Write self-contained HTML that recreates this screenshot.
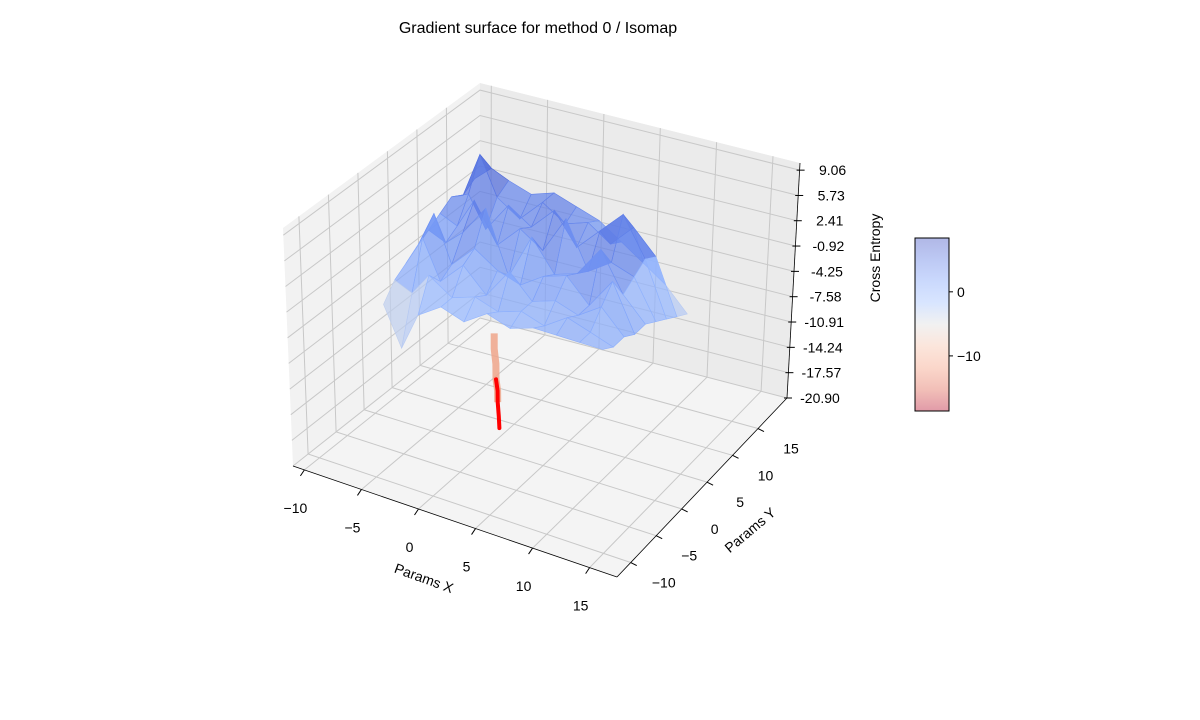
<!DOCTYPE html>
<html><head><meta charset="utf-8"><style>
html,body{margin:0;padding:0;background:#fff;}
svg{display:block;font-family:"Liberation Sans","DejaVu Sans",sans-serif;}
</style></head><body>
<svg id="chart" width="1200" height="720" viewBox="0 0 1200 720" xmlns="http://www.w3.org/2000/svg">
<rect width="1200" height="720" fill="#fff"/>
<text x="538" y="33" font-size="16" text-anchor="middle" fill="#000">Gradient surface for method 0 / Isomap</text>
<g id="panes"></g>
<g id="grid"></g>
<g id="surf"></g>
<g id="traj"></g>
<g id="axes"></g>
<text x="424" y="583" font-size="14" text-anchor="middle" transform="rotate(20 424 578)">Params X</text>
<text x="750" y="535" font-size="14" text-anchor="middle" transform="rotate(-40 750 530)">Params Y</text>
<text x="880" y="258" font-size="14" text-anchor="middle" transform="rotate(-90 880 258)">Cross Entropy</text>
<defs><linearGradient id="cbg" x1="0" y1="0" x2="0" y2="1">
<stop offset="0" stop-color="#3b4cc0"/><stop offset="0.125" stop-color="#5977e3"/><stop offset="0.25" stop-color="#7b9ff9"/><stop offset="0.375" stop-color="#9ebeff"/><stop offset="0.5" stop-color="#dddcdc"/><stop offset="0.625" stop-color="#f6bfa6"/><stop offset="0.75" stop-color="#f49a7b"/><stop offset="0.875" stop-color="#de604d"/><stop offset="1" stop-color="#b40426"/></linearGradient></defs>
<g>
<rect x="915" y="238" width="34" height="173" fill="url(#cbg)" opacity="0.4"/>
<rect x="915" y="238" width="34" height="173" fill="none" stroke="#000" stroke-width="1"/>
<g id="cbticks"></g>
</g>
</svg>
<script>
// ---- data ----
const xs = [-7,-5.5,-4,-2,0,2,4,6,8,10,12];
const ys = [-4,-2,0,2,4,6,8,10,12];
const zRow0 = [-3,-8,-3,-1,-2,0,-1,0,0,0,0];
const zRow1 = [-1,-2,1,-1,0,-1,0,-1,1,0,-1];
const zRow2 = [0,4,-1,2,-1,3,0,1,0,2,-1];
const zRow3 = [1,6,0,3,1,0,2,3,0,4,-2];
const zRow4 = [2,1,3,7,-1,5,1,2,6,1,-2];
const zRow5 = [3,2,6,1,4,2,7,1,3,2,-3];
const zRow6 = [4,5,1,5,3,6,2,5,8,3,-4];
const zRow7 = [3,9,4,2,5,3,4,2,5,2,-5];
const zRow8 = [4,6,5,4,5,4,3,1,-1,-3,-6];
const Z = [zRow0,zRow1,zRow2,zRow3,zRow4,zRow5,zRow6,zRow7,zRow8];
const trajX = [-0.7,-0.7,-0.6,-0.6,-0.5,-0.5,-0.4,-0.4];
const trajY = [2.8,2.8,2.9,2.9,3.0,3.0,3.0,3.1];
const trajZ = [-8,-10,-12,-14,-15.5,-17,-18.8,-20.4];
const xTicks = [-10,-5,0,5,10,15];
const yTicks = [-10,-5,0,5,10,15];
const zTicks = [9.06,5.73,2.41,-0.92,-4.25,-7.58,-10.91,-14.24,-17.57,-20.90];
const cbTicks = [0,-10];
const cbMin = -18.6, cbMax = 8.4;

// ---- projection ----
const X0=-11,X1=17.4,Y0=-12.7,Y1=20.7,Z0=-20.9,Z1=10;
const Bt=[[293,466],[617,577],[787,398],[480,318]];
const Tp=[[283,228],[620,337],[800,163],[480,83]];
function bil(c,u,v){return [c[0][0]*(1-u)*(1-v)+c[1][0]*u*(1-v)+c[2][0]*u*v+c[3][0]*(1-u)*v,
 c[0][1]*(1-u)*(1-v)+c[1][1]*u*(1-v)+c[2][1]*u*v+c[3][1]*(1-u)*v];}
function P(x,y,z){const u=(x-X0)/(X1-X0),v=(y-Y0)/(Y1-Y0),w=(z-Z0)/(Z1-Z0);
 const b=bil(Bt,u,v),t=bil(Tp,u,v);return [b[0]+(t[0]-b[0])*w,b[1]+(t[1]-b[1])*w];}
const NS='http://www.w3.org/2000/svg';
function el(tag,attrs,parent){const e=document.createElementNS(NS,tag);for(const k in attrs)e.setAttribute(k,attrs[k]);parent.appendChild(e);return e;}
function pts(a){return a.map(p=>p[0].toFixed(1)+','+p[1].toFixed(1)).join(' ');}
const fmt=t=>String(t).replace('-','\u2212');

// panes
const panes=document.getElementById('panes');
let p=el('polygon',{points:pts([P(X0,Y0,Z0),P(X1,Y0,Z0),P(X1,Y1,Z0),P(X0,Y1,Z0)]),fill:'#f4f4f4'},panes);

p=el('polygon',{points:pts([P(X0,Y0,Z0),P(X0,Y1,Z0),P(X0,Y1,Z1),P(X0,Y0,Z1)]),fill:'#f2f2f2'},panes);

p=el('polygon',{points:pts([P(X0,Y1,Z0),P(X1,Y1,Z0),P(X1,Y1,Z1),P(X0,Y1,Z1)]),fill:'#ebebeb'},panes);


// grid
const grid=document.getElementById('grid');
xTicks.forEach(t=>{const l=el('polyline',{points:pts([P(t,Y0,Z0),P(t,Y1,Z0),P(t,Y1,Z1)]),fill:'none',stroke:'#c8c8c8','stroke-width':1},grid);
 });
yTicks.forEach(t=>{const l=el('polyline',{points:pts([P(X1,t,Z0),P(X0,t,Z0),P(X0,t,Z1)]),fill:'none',stroke:'#c8c8c8','stroke-width':1},grid);
 });
zTicks.forEach(t=>{const l=el('polyline',{points:pts([P(X0,Y0,t),P(X0,Y1,t),P(X1,Y1,t)]),fill:'none',stroke:'#c8c8c8','stroke-width':1},grid);
 });

// colormap (reversed coolwarm: high=blue)
const stops=[[59,76,192],[89,119,227],[123,159,249],[158,190,255],[221,220,220],[246,191,166],[244,154,123],[222,96,77],[180,4,38]];
function cmap(v){let t=(cbMax-v)/(cbMax-cbMin);t=Math.max(0,Math.min(1,t))*8;const i=Math.min(7,Math.floor(t)),f=t-i;
 const c=stops[i].map((a,k)=>Math.round(a+(stops[i+1][k]-a)*f));return 'rgb('+c.join(',')+')';}

// surface
const surf=document.getElementById('surf');
const cells=[];
for(let j=0;j<ys.length-1;j++)for(let i=0;i<xs.length-1;i++){
 const zs=[Z[j][i],Z[j][i+1],Z[j+1][i+1],Z[j+1][i]];
 const avg=(zs[0]+zs[1]+zs[2]+zs[3])/4;
 const c=[P(xs[i],ys[j],zs[0]),P(xs[i+1],ys[j],zs[1]),P(xs[i+1],ys[j+1],zs[2]),P(xs[i],ys[j+1],zs[3])];
 cells.push({c,avg,d:(xs[i]-X0)/(X1-X0)-(ys[j]-Y0)/(Y1-Y0)});
}
cells.sort((a,b)=>a.d-b.d);
cells.forEach(c=>{const col=cmap(c.avg);const q=el('polygon',{points:pts(c.c),fill:col,stroke:col,'stroke-width':0.6,'fill-opacity':0.72},surf);
 });

// trajectory
const traj=document.getElementById('traj');
const tp=trajX.map((x,k)=>P(x,trajY[k],trajZ[k]));
let s=el('polyline',{points:pts(tp.slice(0,6)),fill:'none',stroke:'#eea48a','stroke-width':7,opacity:0.85},traj);

s=el('polyline',{points:pts(tp.slice(3)),fill:'none',stroke:'#ff0000','stroke-width':4,'stroke-linecap':'round'},traj);


// axes ticks & labels
const axes=document.getElementById('axes');
xTicks.forEach(t=>{const a=P(t,Y0,Z0);el('line',{x1:a[0],y1:a[1],x2:a[0]-4,y2:a[1]+6,stroke:'#000','stroke-width':1},axes);
 const lb=el('text',{x:a[0]-9,y:a[1]+43,'font-size':14,'text-anchor':'middle'},axes);lb.textContent=fmt(t);
 });
yTicks.forEach(t=>{const a=P(X1,t,Z0);el('line',{x1:a[0],y1:a[1],x2:a[0]+6,y2:a[1]+3,stroke:'#000','stroke-width':1},axes);
 const lb=el('text',{x:a[0]+33,y:a[1]+25,'font-size':14,'text-anchor':'middle'},axes);lb.textContent=fmt(t);
 });
zTicks.forEach(t=>{const a=P(X1,Y1,t);el('line',{x1:a[0]-3,y1:a[1],x2:a[0]+5,y2:a[1],stroke:'#000','stroke-width':1},axes);
 const lb=el('text',{x:a[0]+33,y:a[1]+5,'font-size':14,'text-anchor':'middle'},axes);lb.textContent=t.toFixed(2);
 });
el('line',{x1:P(X0,Y0,Z0)[0],y1:P(X0,Y0,Z0)[1],x2:P(X1,Y0,Z0)[0],y2:P(X1,Y0,Z0)[1],stroke:'#000','stroke-width':0.8},axes);
el('line',{x1:P(X1,Y0,Z0)[0],y1:P(X1,Y0,Z0)[1],x2:P(X1,Y1,Z0)[0],y2:P(X1,Y1,Z0)[1],stroke:'#000','stroke-width':0.8},axes);
el('line',{x1:P(X1,Y1,Z0)[0],y1:P(X1,Y1,Z0)[1],x2:P(X1,Y1,Z1)[0],y2:P(X1,Y1,Z1)[1],stroke:'#000','stroke-width':0.8},axes);

// colorbar ticks
const cbt=document.getElementById('cbticks');
cbTicks.forEach(t=>{const y=238+(cbMax-t)/(cbMax-cbMin)*173;el('line',{x1:949,y1:y,x2:953,y2:y,stroke:'#000'},cbt);
 const lb=el('text',{x:957,y:y+5,'font-size':14},cbt);lb.textContent=fmt(t);
 });
</script>
</body></html>
